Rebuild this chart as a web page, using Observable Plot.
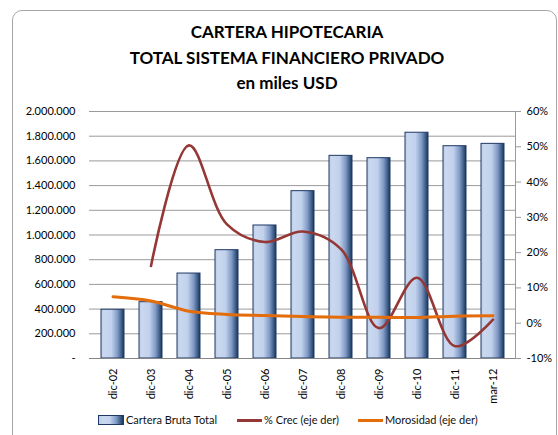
<!DOCTYPE html>
<html><head><meta charset="utf-8">
<script src="https://cdn.jsdelivr.net/npm/d3@7"></script>
<script src="https://cdn.jsdelivr.net/npm/@observablehq/plot@0.6"></script>
<style>
body{margin:0;background:#fff;font-family:Lato,"Open Sans",sans-serif;}
#wrap{position:relative;width:558px;height:435px;overflow:hidden;background:#fff;}
#frame{position:absolute;left:12px;top:10px;width:545px;height:445px;border:1px solid #a6a6a6;border-radius:10px;box-sizing:border-box;}
#title{position:absolute;left:12px;width:550px;top:19px;text-align:center;font-weight:bold;font-size:17px;line-height:25.5px;color:#000;}
#chart{position:absolute;left:0;top:100px;}
.leg{position:absolute;top:413px;height:14px;font-size:11px;line-height:14px;color:#111;display:flex;align-items:center;white-space:nowrap;}
.sw{display:inline-block;width:25px;margin-right:2px;}
</style></head>
<body>
<div id="wrap">
  <div id="frame"></div>
  <div id="title">CARTERA HIPOTECARIA<br>TOTAL SISTEMA FINANCIERO PRIVADO<br>en miles USD</div>
  <div id="chart"></div>
  <div class="leg" style="left:98px"><span class="sw" style="height:8px;border:1px solid #1f3864;width:24px;background:linear-gradient(90deg,#bccde8,#cad8ef 15%,#c3d3ec 45%,#7f9ac6 72%,#17375e)"></span>Cartera Bruta Total</div>
  <div class="leg" style="left:237px"><span class="sw" style="height:3px;background:#953735"></span>% Crec (eje der)</div>
  <div class="leg" style="left:358px"><span class="sw" style="height:3px;background:#e46c0a"></span>Morosidad (eje der)</div>
</div>
<script>
const categories = ["dic-02","dic-03","dic-04","dic-05","dic-06","dic-07","dic-08","dic-09","dic-10","dic-11","mar-12"];
const cartera = [395000, 456000, 688000, 877000, 1077000, 1355000, 1641000, 1622000, 1828000, 1719000, 1738000];
const crec = [null, 16.2, 50.4, 28.0, 23.0, 26.0, 21.0, -1.4, 12.9, -6.5, 1.0];
const morosidad = [7.5, 6.3, 3.4, 2.5, 2.2, 1.9, 1.7, 1.7, 1.6, 2.0, 2.1];
const leftTicks = [0, 200000, 400000, 600000, 800000, 1000000, 1200000, 1400000, 1600000, 1800000, 2000000];
const rightTicks = [-10, 0, 10, 20, 30, 40, 50, 60];

const leftMax = 2000000, rightMin = -10, rightMax = 60;
const toY = p => (p - rightMin) / (rightMax - rightMin) * leftMax;
const fromY = v => v / leftMax * (rightMax - rightMin) + rightMin;

const data = categories.map((c, i) => ({cat: c, cartera: cartera[i], crec: crec[i], mor: morosidad[i]}));
const fmt = d3.formatLocale({decimal: ",", thousands: ".", grouping: [3], currency: ["", ""]}).format(",.0f");

const defsMark = () => {
  const defs = d3.create("svg:defs");
  const g = defs.append("linearGradient").attr("id", "barGrad")
    .attr("x1", 0).attr("y1", 0).attr("x2", 1).attr("y2", 0);
  [[0, "#b9cbe7"], [0.12, "#cad8ef"], [0.45, "#c2d2ec"], [0.72, "#7f9ac6"], [1, "#17375e"]]
    .forEach(([o, c]) => g.append("stop").attr("offset", o).attr("stop-color", c));
  return defs.node();
};

const plot = Plot.plot({
  width: 558, height: 310,
  marginLeft: 89, marginRight: 43, marginTop: 11, marginBottom: 52,
  style: {fontFamily: "Lato, 'Open Sans', sans-serif", fontSize: "11px", color: "#000", background: "transparent"},
  x: {domain: categories, paddingInner: 0.4, paddingOuter: 0.2, label: null},
  y: {domain: [0, leftMax], label: null},
  marks: [
    defsMark,
    Plot.ruleY(leftTicks.slice(1), {stroke: "#9a9a9a"}),
    Plot.barY(data, {x: "cat", y: "cartera", fill: "url(#barGrad)", stroke: "#1f3864", strokeWidth: 1}),
    Plot.ruleY([0], {stroke: "#868686"}),
    Plot.frame({anchor: "right", stroke: "#9a9a9a"}),
    Plot.line(data.filter(d => d.crec != null), {x: "cat", y: d => toY(d.crec), stroke: "#953735", strokeWidth: 2.6, curve: "catmull-rom"}),
    Plot.line(data, {x: "cat", y: d => toY(d.mor), stroke: "#e46c0a", strokeWidth: 3, curve: "catmull-rom"}),
    Plot.axisY(leftTicks, {anchor: "left", tickSize: 0, tickPadding: 14, tickFormat: v => v === 0 ? "-" : fmt(v), label: null}),
    Plot.axisY(rightTicks.map(toY), {anchor: "right", tickSize: 5, tickPadding: 6, stroke: "#9a9a9a", fill: "#000", tickFormat: v => Math.round(fromY(v)) + "%", label: null}),
    Plot.axisX({tickRotate: -90, tickSize: 0, tickPadding: 10, label: null})
  ]
});
document.getElementById("chart").appendChild(plot);
</script>
</body></html>
